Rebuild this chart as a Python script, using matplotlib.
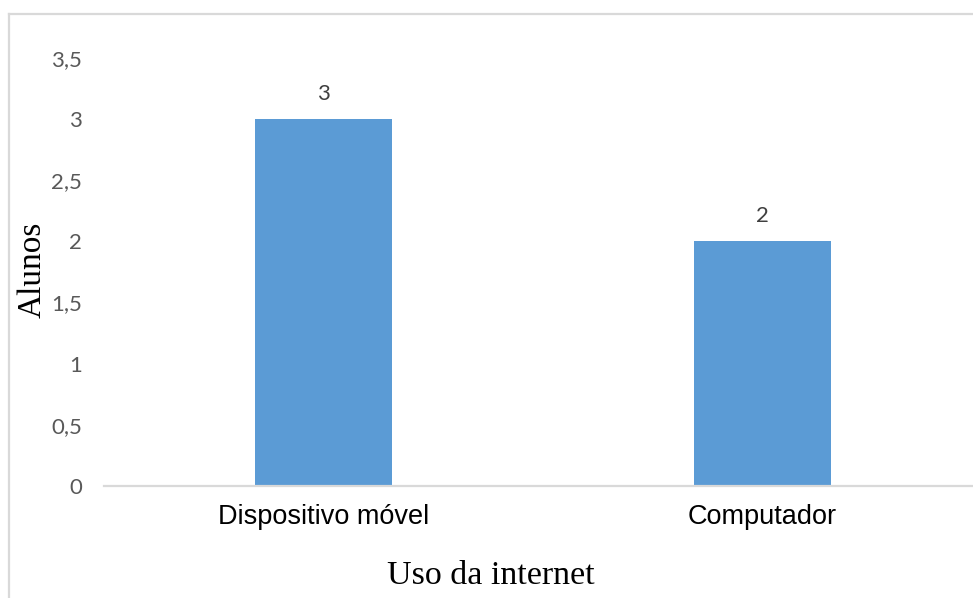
import matplotlib
matplotlib.use("Agg")
import matplotlib.pyplot as plt
from matplotlib.lines import Line2D
from matplotlib.ticker import FixedLocator, FuncFormatter

categories = ["Dispositivo móvel", "Computador"]
values = [3, 2]
y_ticks = [0, 0.5, 1, 1.5, 2, 2.5, 3, 3.5]

W, H = 973, 598
fig = plt.figure(figsize=(W / 100, H / 100), dpi=100)

# chart frame (top and left edges visible)
frame_color = "#d9d9d9"
fig.add_artist(Line2D([9 / W, 9 / W], [0, 1 - 14 / H], transform=fig.transFigure,
                      color=frame_color, lw=1.6))
fig.add_artist(Line2D([9 / W, 1], [1 - 14 / H, 1 - 14 / H], transform=fig.transFigure,
                      color=frame_color, lw=1.6))

ax_left, ax_right = 104 / W, 982 / W
ax_bottom, ax_top = 1 - 486 / H, 1 - 58 / H
ax = fig.add_axes([ax_left, ax_bottom, ax_right - ax_left, ax_top - ax_bottom])

x = list(range(len(categories)))
bars = ax.bar(x, values, width=0.312, color="#5b9bd5", zorder=2)

ax.set_xlim(-0.5, len(categories) - 0.5)
ax.set_ylim(0, 3.5)
ax.yaxis.set_major_locator(FixedLocator(y_ticks))
ax.yaxis.set_major_formatter(FuncFormatter(lambda v, p: f"{v:g}".replace(".", ",")))
ax.set_xticks(x)
ax.set_xticklabels(categories, fontsize=19.5, family="Liberation Sans", color="#000000")

for lbl in ax.get_yticklabels():
    lbl.set_fontfamily("Lato")
    lbl.set_fontsize(16)
    lbl.set_color("#595959")

ax.tick_params(axis="y", length=0, pad=16)
ax.tick_params(axis="x", length=0, pad=13)

for side in ["top", "right", "left"]:
    ax.spines[side].set_visible(False)
ax.spines["bottom"].set_color(frame_color)
ax.spines["bottom"].set_linewidth(1.6)

for b, v in zip(bars, values):
    ax.annotate(f"{v}", (b.get_x() + b.get_width() / 2, v), xytext=(0, 11),
                textcoords="offset points", ha="center", va="bottom",
                fontsize=16, family="Lato", color="#404040")

fig.text(32 / W, 1 - 270 / H, "Alunos", rotation=90, ha="center", va="center",
         fontsize=24, family="Liberation Serif", color="#000000")
fig.text(491 / W, 1 - 576 / H, "Uso da internet", ha="center", va="center",
         fontsize=24.5, family="Liberation Serif", color="#000000")

fig.savefig("out.png", dpi=100)
